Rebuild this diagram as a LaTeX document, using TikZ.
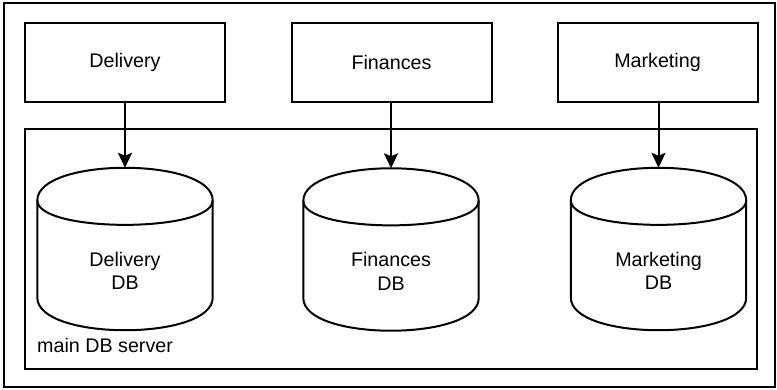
\documentclass[tikz,border=0pt]{standalone}
\usepackage{fontspec}
\setmainfont{Liberation Sans}
\usetikzlibrary{arrows.meta}
\begin{document}
\begin{tikzpicture}[x=1pt,y=-1pt,
  line/.style={line width=2pt,draw=black},
  txt/.style={font=\fontsize{19.7}{23.6}\selectfont,align=center,inner sep=0pt},
  appbox/.style={line,txt,minimum width=200pt,minimum height=79pt},
  cylbox/.style={inner sep=0pt,minimum width=175pt,minimum height=162pt},
  frame/.style={line,inner sep=0pt},
  conn/.style={line width=2pt,-{Stealth[length=15pt,width=14pt,inset=3pt]}}]
\useasboundingbox (0,0) rectangle (777,389);
% outer frame and container
\node[frame,minimum width=771pt,minimum height=384pt] (outer) at (389.5,195) {};
\node[frame,minimum width=732pt,minimum height=240pt] (server) at (391,249) {};
\node[txt,anchor=west] (serverlabel) at (37,345) {main DB server};
% application boxes
\node[appbox] (del) at (125,62.5) {Delivery};
\node[appbox] (fin) at (391.5,62.5) {Finances};
\node[appbox] (mar) at (657.5,62.5) {Marketing};
% database cylinders (outline drawn below)
\node[cylbox] (ddb) at (125,249) {};
\node[cylbox] (fdb) at (391,249.5) {};
\node[cylbox] (mdb) at (658.5,249) {};
\foreach \n in {ddb,fdb,mdb}{
  \draw[line,line join=round]
    ([yshift=-32.6pt]\n.north west) .. controls ([yshift=10.9pt]\n.north west) and ([yshift=10.9pt]\n.north east) .. ([yshift=-32.6pt]\n.north east)
    -- ([yshift=32.6pt]\n.south east) .. controls ([yshift=-10.9pt]\n.south east) and ([yshift=-10.9pt]\n.south west) .. ([yshift=32.6pt]\n.south west)
    -- cycle;
  \draw[line]
    ([yshift=-32.6pt]\n.north west) .. controls ([yshift=-65.2pt]\n.north west) and ([yshift=-65.2pt]\n.north east) .. ([yshift=-32.6pt]\n.north east);
}
\node[txt] (ddbt) at ([yshift=-22pt]ddb.center) {Delivery\\DB};
\node[txt] (fdbt) at ([yshift=-22pt]fdb.center) {Finances\\DB};
\node[txt] (mdbt) at ([yshift=-22pt]mdb.center) {Marketing\\DB};
% connectors
\draw[conn] (del.south) -- (ddb.north);
\draw[conn] (fin.south -| fdb.north) -- (fdb.north);
\draw[conn] (mar.south -| mdb.north) -- (mdb.north);
\end{tikzpicture}
\end{document}
